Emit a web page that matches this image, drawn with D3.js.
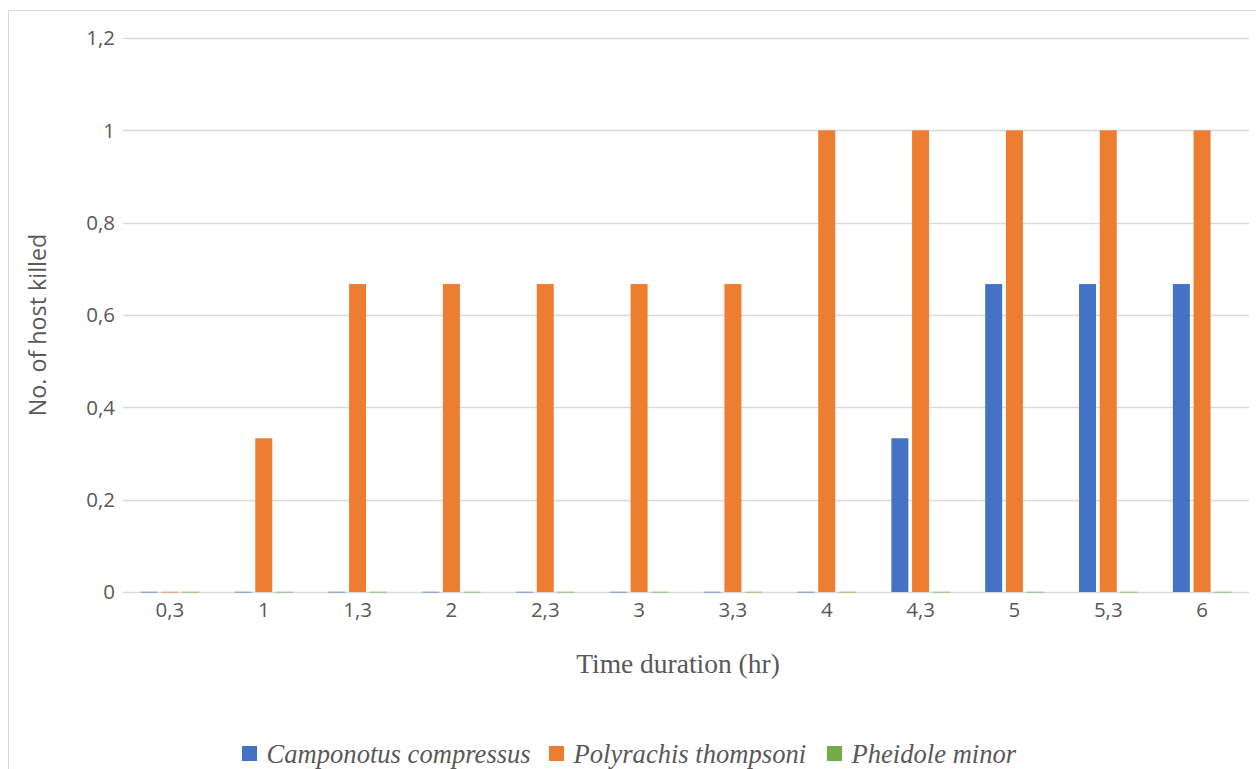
<!DOCTYPE html>
<html><head><meta charset="utf-8">
<script src="https://cdn.jsdelivr.net/npm/d3@7"></script>
<style>body{margin:0;background:#fff;overflow:hidden}</style>
</head><body><svg id="c" width="1256" height="769"></svg>
<script>
const categories = ["0,3","1","1,3","2","2,3","3","3,3","4","4,3","5","5,3","6"];
const seriesNames = ["Camponotus compressus","Polyrachis thompsoni","Pheidole minor"];
const camponotus = [0,0,0,0,0,0,0,0,0.333,0.667,0.667,0.667];
const polyrachis = [0,0.333,0.667,0.667,0.667,0.667,0.667,1,1,1,1,1];
const pheidole = [0,0,0,0,0,0,0,0,0,0,0,0];
const yTicks = [0,0.2,0.4,0.6,0.8,1,1.2];
const yTickLabels = ["0","0,2","0,4","0,6","0,8","1","1,2"];
const colors = ["#4472C4","#ED7D31","#70AD47"];

const svg = d3.select("#c");
svg.append("rect").attr("x",8.5).attr("y",10.5).attr("width",1270).attr("height",800)
  .attr("fill","#fff").attr("stroke","#d9d9d9").attr("stroke-width",1);

const pLeft=123, pRight=1249, pTop=38, pBottom=592;
const x = d3.scaleBand().domain(categories).range([pLeft,pRight]).paddingInner(0).paddingOuter(0);
const x1 = d3.scaleBand().domain(seriesNames).range([17.7, x.bandwidth()-17.7]).paddingInner(0.18);
const y = d3.scaleLinear().domain([0,1.2]).range([pBottom,pTop]);

const font = "'Open Sans', sans-serif";
svg.append("g").selectAll("line").data(yTicks).join("line")
  .attr("x1",pLeft).attr("x2",pRight).attr("y1",d=>Math.round(y(d))+0.5).attr("y2",d=>Math.round(y(d))+0.5)
  .attr("stroke","#d9d9d9").attr("stroke-width",1.3);

svg.append("g").selectAll("text").data(yTicks).join("text")
  .attr("x",115).attr("y",d=>y(d)).attr("dy","0.35em").attr("text-anchor","end")
  .attr("font-family",font).attr("font-size",20.5).attr("fill","#595959")
  .text((d,i)=>yTickLabels[i]);

const data = [camponotus,polyrachis,pheidole];
const groups = svg.append("g").selectAll("g").data(categories).join("g")
  .attr("transform",d=>`translate(${x(d)},0)`);
groups.selectAll("rect").data((c,i)=>seriesNames.map((s,k)=>({s,k,v:data[k][i]}))).join("rect")
  .attr("x",d=>x1(d.s)).attr("width",x1.bandwidth())
  .attr("y",d=>d.v>0?y(d.v):pBottom-0.5).attr("height",d=>d.v>0?pBottom-y(d.v):1.5)
  .attr("fill",d=>colors[d.k]).attr("opacity",d=>d.v>0?1:0.45);

svg.append("g").selectAll("text").data(categories).join("text")
  .attr("x",d=>x(d)+x.bandwidth()/2).attr("y",610).attr("dy","0.35em").attr("text-anchor","middle")
  .attr("font-family",font).attr("font-size",20.5).attr("fill","#595959").text(d=>d);

svg.append("text").attr("transform","translate(38,325) rotate(-90)").attr("dy","0.35em")
  .attr("text-anchor","middle").attr("font-family",font).attr("font-size",23.3).attr("fill","#595959")
  .text("No. of host killed");
svg.append("text").attr("x",678).attr("y",673).attr("text-anchor","middle")
  .attr("font-family","'Liberation Serif', serif").attr("font-size",27.5).attr("fill","#595959")
  .text("Time duration (hr)");

const legX = [242,549,827];
const lg = svg.append("g").selectAll("g").data(seriesNames).join("g")
  .attr("transform",(d,i)=>`translate(${legX[i]},0)`);
lg.append("rect").attr("x",0).attr("y",746).attr("width",15).attr("height",15).attr("fill",(d,i)=>colors[i]);
lg.append("text").attr("x",24.5).attr("y",763).attr("font-family","'Liberation Serif', serif")
  .attr("font-style","italic").attr("font-size",26.6).attr("fill","#595959").text(d=>d);
</script></body></html>
